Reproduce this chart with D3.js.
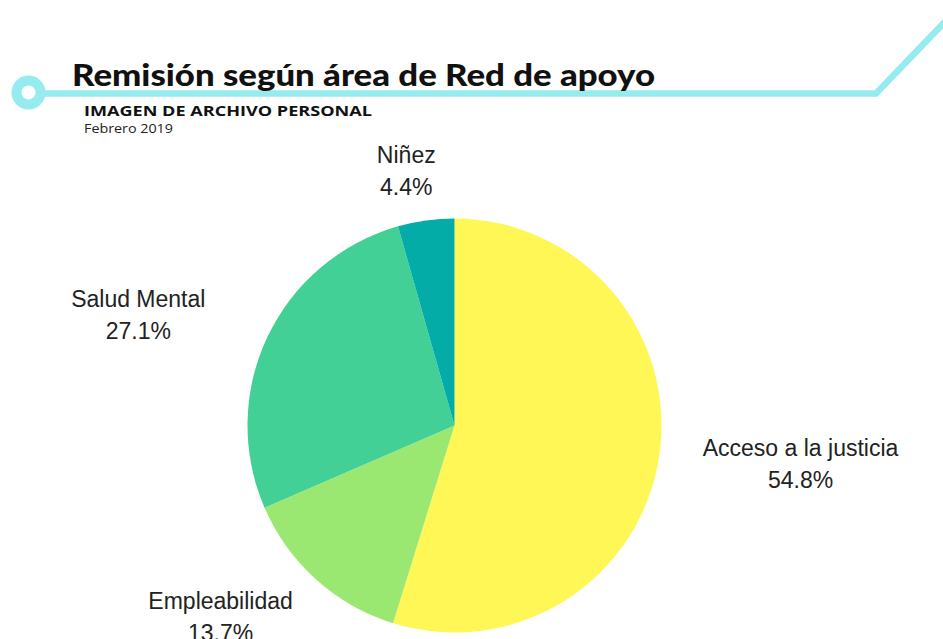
<!DOCTYPE html>
<html>
<head>
<meta charset="utf-8">
<script src="https://cdnjs.cloudflare.com/ajax/libs/d3/7.8.5/d3.min.js"></script>
<style>
  html, body { margin: 0; padding: 0; background: #fff; }
  svg { display: block; }
</style>
</head>
<body>
<div id="vis-container"></div>
<script>
// data
var categories = ["Acceso a la justicia", "Empleabilidad", "Salud Mental", "Niñez"];
var values = [54.8, 13.7, 27.1, 4.4];
var colors = ["#fef755", "#9ae872", "#43d096", "#04aca7"];

var width = 943, height = 639;
var cx = 454.5, cy = 425.5, radius = 207;
var lineColor = "#96ebee";

var svg = d3.select("#vis-container").append("svg")
    .attr("width", width)
    .attr("height", height);

// decorative line + ring
svg.append("path")
    .attr("d", "M42,93.5 L876,93.5 L960,6")
    .attr("fill", "none")
    .attr("stroke", lineColor)
    .attr("stroke-width", 6.5);

svg.append("circle")
    .attr("cx", 28.5)
    .attr("cy", 92.5)
    .attr("r", 12)
    .attr("fill", "#fff")
    .attr("stroke", lineColor)
    .attr("stroke-width", 10);

// titles
svg.append("text")
    .attr("x", 72)
    .attr("y", 86)
    .attr("font-family", "Lato, sans-serif")
    .attr("font-weight", 900)
    .attr("font-size", 30)
    .attr("textLength", 583)
    .attr("lengthAdjust", "spacingAndGlyphs")
    .attr("fill", "#111")
    .text("Remisión según área de Red de apoyo");

svg.append("text")
    .attr("x", 84)
    .attr("y", 116)
    .attr("font-family", "'Open Sans', sans-serif")
    .attr("font-weight", 700)
    .attr("font-size", 15)
    .attr("textLength", 288)
    .attr("lengthAdjust", "spacingAndGlyphs")
    .attr("fill", "#111")
    .text("IMAGEN DE ARCHIVO PERSONAL");

svg.append("text")
    .attr("x", 84)
    .attr("y", 133)
    .attr("font-family", "'Open Sans', sans-serif")
    .attr("font-size", 13)
    .attr("textLength", 89)
    .attr("lengthAdjust", "spacingAndGlyphs")
    .attr("fill", "#222")
    .text("Febrero 2019");

// pie
var data = categories.map(function(c, i) {
    return { name: c, value: values[i], color: colors[i] };
});

var pie = d3.pie()
    .sort(null)
    .value(function(d) { return d.value; });

var arc = d3.arc()
    .innerRadius(0)
    .outerRadius(radius);

var g = svg.append("g")
    .attr("transform", "translate(" + cx + "," + cy + ")");

var arcs = pie(data);

g.selectAll("path.slice")
    .data(arcs)
    .enter().append("path")
    .attr("class", "slice")
    .attr("d", arc)
    .attr("fill", function(d) { return d.data.color; });

// labels on an ellipse around the pie
var rx = 350, ry = 257;
var labels = g.selectAll("text.lbl")
    .data(arcs)
    .enter().append("text")
    .attr("class", "lbl")
    .attr("text-anchor", "middle")
    .attr("font-family", "'Liberation Sans', Arial, sans-serif")
    .attr("font-size", 23)
    .attr("fill", "#222")
    .attr("transform", function(d) {
        var a = (d.startAngle + d.endAngle) / 2;
        return "translate(" + (Math.sin(a) * rx) + "," + (-Math.cos(a) * ry) + ")";
    });

labels.append("tspan")
    .attr("x", 0)
    .attr("y", -8)
    .text(function(d) { return d.data.name; });

labels.append("tspan")
    .attr("x", 0)
    .attr("y", 24)
    .text(function(d) { return d.data.value.toFixed(1) + "%"; });
</script>
</body>
</html>
